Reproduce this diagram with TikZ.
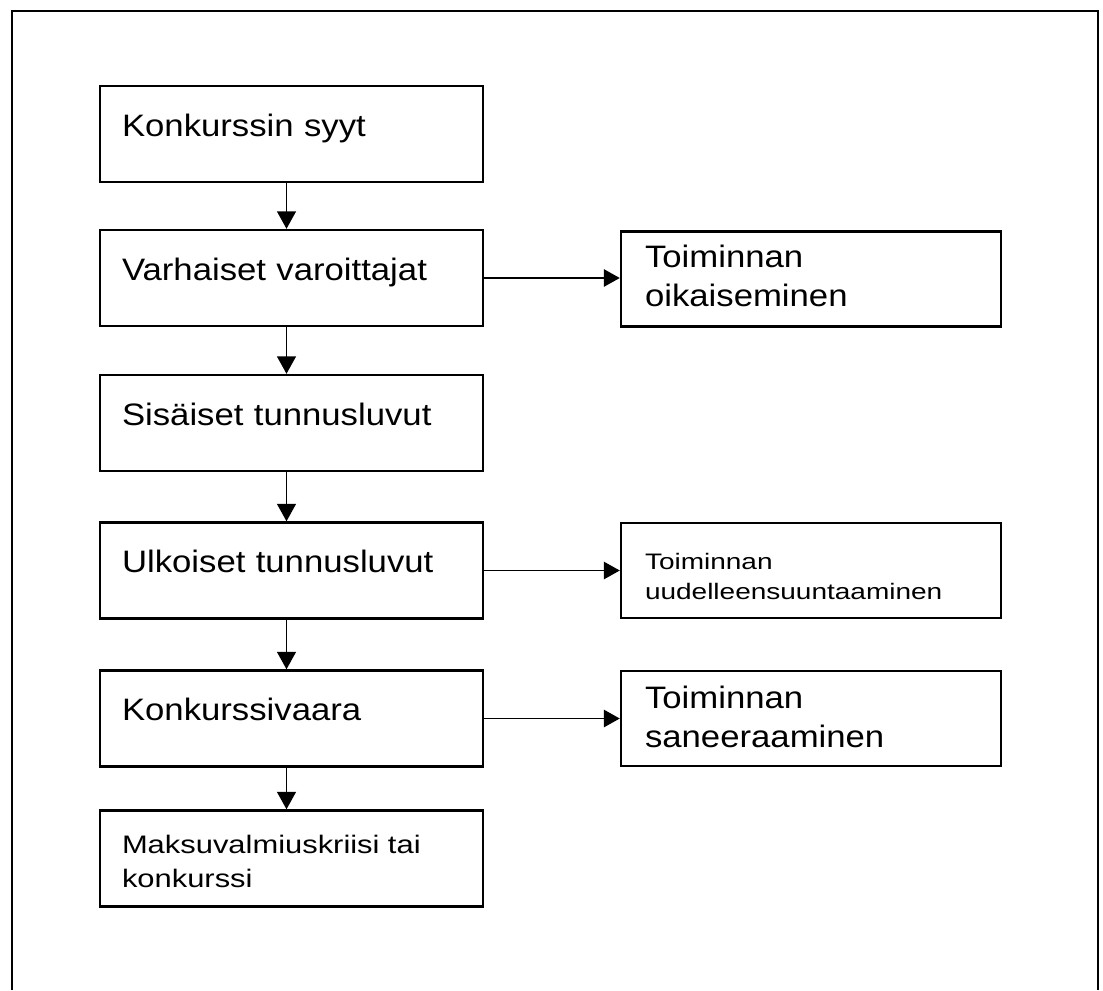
\documentclass[tikz,border=0pt]{standalone}
\usepackage{fontspec}
\setmainfont{Liberation Sans}
\newfontfamily\bigf[FakeStretch=1.12]{Liberation Sans}
\newfontfamily\smallf[FakeStretch=1.25]{Liberation Sans}
\newfontfamily\maksuf[FakeStretch=1.22]{Liberation Sans}
\usetikzlibrary{arrows.meta}
\begin{document}
\begin{tikzpicture}[x=0.75pt,y=-0.75pt,
  box/.style={draw=black,line width=1.8pt,rectangle,inner ysep=0pt,align=left,anchor=center},
  lbox/.style={box,inner xsep=16.5pt,text width=254.25pt,minimum height=72pt,
    text height=37.5pt,text depth=34.5pt,font=\bigf\fontsize{23.25pt}{29.25pt}\selectfont},
  rbox/.style={box,inner xsep=18pt,text width=249pt,minimum height=71.25pt,
    text height=27pt,text depth=44.25pt,font=\bigf\fontsize{23.25pt}{29.25pt}\selectfont},
  varrow/.style={line width=1.4pt,-{Triangle[length=13pt,width=14pt]}},
  harrow/.style={line width=1.4pt,-{Triangle[length=12pt,width=13pt]}}]
\useasboundingbox (0,0) rectangle (1103,990);
% outer frame (open at the bottom)
\draw[line width=1.4pt] (12,990) -- (12,11) -- (1098,11) -- (1098,990);
% left column
\node[lbox] (b1) at (291.5,134) {Konkurssin syyt};
\node[lbox] (b2) at (291.5,278) {Varhaiset varoittajat};
\node[lbox] (b3) at (291.5,423) {Sisäiset tunnusluvut};
\node[lbox] (b4) at (291.5,570.5) {Ulkoiset tunnusluvut};
\node[lbox] (b5) at (291.5,718.5) {Konkurssivaara};
\node[lbox,text height=32.25pt,text depth=39.75pt,
  font=\maksuf\fontsize{19pt}{25.5pt}\selectfont] (b6) at (291.5,858.5)
  {Maksuvalmiuskriisi tai\\konkurssi};
% right column
\node[rbox] (r1) at (811,279) {Toiminnan\\oikaiseminen};
\node[rbox,text height=34.5pt,text depth=36.75pt,
  font=\smallf\fontsize{16.8pt}{22.5pt}\selectfont] (r2) at (811,570.5)
  {Toiminnan\\uudelleensuuntaaminen};
\node[rbox,text height=28pt,text depth=43.25pt] (r3) at (811,718.5) {Toiminnan\\saneeraaminen};
% vertical arrows
\foreach \a/\b in {b1/b2,b2/b3,b3/b4,b4/b5,b5/b6}
  \draw[varrow] ([xshift=-3.75pt]\a.south) -- ([xshift=-3.75pt]\b.north);
% horizontal arrows
\draw[harrow] (b2.east) -- (b2.east -| r1.west);
\draw[harrow] (b4.east) -- (b4.east -| r2.west);
\draw[harrow] (b5.east) -- (b5.east -| r3.west);
\end{tikzpicture}
\end{document}
